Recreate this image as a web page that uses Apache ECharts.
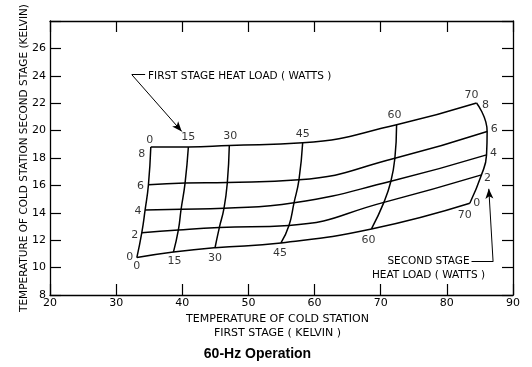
<!DOCTYPE html>
<html><head><meta charset="utf-8">
<script src="https://cdn.jsdelivr.net/npm/echarts@6/dist/echarts.min.js"></script>
<style>html,body{margin:0;padding:0;background:#fff}#c{width:532px;height:367px}</style>
</head><body><div id="c"></div>
<script>
// ---- data ----
const firstStageLoads = [0, 15, 30, 45, 60, 70];      // W, constant first-stage load curves
const secondStageLoads = [0, 2, 4, 6, 8];             // W, constant second-stage load curves
// rows: first-stage load; columns: second-stage load
const firstStageTemp = [
  [33.13, 33.88, 34.38, 34.88, 35.24],
  [38.66, 39.41, 39.82, 40.42, 40.92],
  [44.95, 45.60, 46.31, 46.81, 47.11],
  [54.92, 56.13, 56.89, 57.64, 58.20],
  [68.60, 70.48, 71.54, 72.14, 72.40],
  [83.47, 85.24, 86.00, 86.09, 84.49]
];
const secondStageTemp = [
  [10.73, 12.55, 14.21, 16.04, 18.80],
  [11.13, 12.75, 14.26, 16.17, 18.80],
  [11.45, 12.92, 14.34, 16.21, 18.91],
  [11.80, 13.08, 14.73, 16.41, 19.11],
  [12.82, 14.76, 16.30, 17.98, 20.43],
  [14.70, 16.77, 18.23, 19.94, 22.01]
];
const xTicks = [20, 30, 40, 50, 60, 70, 80, 90];
const yTicks = [8, 10, 12, 14, 16, 18, 20, 22, 24, 26];
// annotation leader points (data units)
const firstArrow = [[32.37, 24.08], [39.92, 19.94]];
const firstLeader = [[32.37, 24.08], [34.38, 24.08]];
const secondArrow = [[86.99, 10.43], [86.34, 15.75]];
const secondLeader = [[83.73, 10.43], [86.99, 10.43]];

// ---- label placement (pixel offsets, style only) ----
const topLabelOffset = [[-1,-7],[0,-10],[1,-9],[0,-9],[-2,-10],[-5,-8]];
const bottomLabelOffset = [[0,9],[1,9],[0,10],[-1,10],[-3,11],[-5,12]];
const leftLabelOffset = [[-7,0],[-7,2],[-7,1],[-8,1],[-9,7]];
const rightLabelOffset = [[7,0],[6,3],[7,-2],[7,-2],[9,2]];

const FONT = 'DejaVu Sans';
const chart = echarts.init(document.getElementById('c'), null, {renderer: 'canvas'});

const series = [];
const curveStyle = {color: '#000', width: 1.5};
firstStageLoads.forEach((q1, i) => {
  series.push({type: 'line', xAxisIndex: 0, yAxisIndex: 0, smooth: 0.5, symbol: 'none', silent: true,
    lineStyle: curveStyle, z: 3,
    data: secondStageLoads.map((q2, j) => [firstStageTemp[i][j], secondStageTemp[i][j]])});
});
secondStageLoads.forEach((q2, j) => {
  series.push({type: 'line', xAxisIndex: 0, yAxisIndex: 0, smooth: 0.5, symbol: 'none', silent: true,
    lineStyle: curveStyle, z: 3,
    data: firstStageLoads.map((q1, i) => [firstStageTemp[i][j], secondStageTemp[i][j]])});
});

const labelData = [];
const last = secondStageLoads.length - 1;
const lastI = firstStageLoads.length - 1;
firstStageLoads.forEach((q1, i) => {
  labelData.push({value: [firstStageTemp[i][last], secondStageTemp[i][last]], label: {formatter: String(q1), offset: topLabelOffset[i]}});
  labelData.push({value: [firstStageTemp[i][0], secondStageTemp[i][0]], label: {formatter: String(q1), offset: bottomLabelOffset[i]}});
});
secondStageLoads.forEach((q2, j) => {
  labelData.push({value: [firstStageTemp[0][j], secondStageTemp[0][j]], label: {formatter: String(q2), offset: leftLabelOffset[j]}});
  labelData.push({value: [firstStageTemp[lastI][j], secondStageTemp[lastI][j]], label: {formatter: String(q2), offset: rightLabelOffset[j]}});
});

series.push({type: 'scatter', symbol: 'circle', symbolSize: 1, silent: true, z: 4,
  itemStyle: {color: 'rgba(0,0,0,0)'},
  label: {show: true, position: 'inside', color: '#000', fontSize: 11, fontFamily: FONT},
  data: labelData,
  markLine: {silent: true, symbol: ['none', 'arrow'], symbolSize: [6, 10], animation: false,
    lineStyle: {color: '#000', width: 1, type: 'solid'}, label: {show: false},
    data: [
      [{coord: firstArrow[0]}, {coord: firstArrow[1]}],
      [{coord: secondArrow[0]}, {coord: secondArrow[1]}]
    ]}
});
series.push({type: 'scatter', data: [], silent: true,
  markLine: {silent: true, symbol: ['none', 'none'], animation: false,
    lineStyle: {color: '#000', width: 1, type: 'solid'}, label: {show: false},
    data: [
      [{coord: firstLeader[0]}, {coord: firstLeader[1]}],
      [{coord: secondLeader[0]}, {coord: secondLeader[1]}]
    ]}
});

const axisLine = {show: true, lineStyle: {color: '#000', width: 1.3}};
const tick = {show: true, inside: true, length: 11, lineStyle: {color: '#000', width: 1.2}};
const lab = {color: '#000', fontSize: 11, fontFamily: FONT};

chart.setOption({
  animation: false,
  backgroundColor: '#fff',
  grid: {left: 50, right: 19, top: 21, bottom: 72},
  xAxis: [
    {type: 'value', position: 'bottom', min: xTicks[0], max: xTicks[xTicks.length-1], interval: 10,
      axisLine, axisTick: tick, splitLine: {show: false},
      axisLabel: Object.assign({margin: 3}, lab)},
    {type: 'value', position: 'top', min: xTicks[0], max: xTicks[xTicks.length-1], interval: 10,
      axisLine, axisTick: tick, splitLine: {show: false}, axisLabel: {show: false}}
  ],
  yAxis: [
    {type: 'value', position: 'left', min: yTicks[0], max: 28, interval: 2,
      axisLine, axisTick: tick, splitLine: {show: false},
      axisLabel: Object.assign({margin: 4, formatter: v => yTicks.includes(v) ? String(v) : ''}, lab)},
    {type: 'value', position: 'right', min: yTicks[0], max: 28, interval: 2,
      axisLine, axisTick: tick, splitLine: {show: false}, axisLabel: {show: false}}
  ],
  series,
  graphic: [
    {type: 'text', x: 148, y: 76, silent: true,
      style: {text: 'FIRST STAGE HEAT LOAD ( WATTS )', fill: '#000', font: '10.5px "DejaVu Sans"', align: 'left', verticalAlign: 'middle'}},
    {type: 'text', x: 428.5, y: 268.5, silent: true,
      style: {text: 'SECOND STAGE\nHEAT LOAD ( WATTS )', fill: '#000', font: '10.5px "DejaVu Sans"', align: 'center', verticalAlign: 'middle', lineHeight: 13.5}},
    {type: 'text', x: 277.5, y: 326, silent: true,
      style: {text: 'TEMPERATURE OF COLD STATION\nFIRST STAGE ( KELVIN )', fill: '#000', font: '11px "DejaVu Sans"', align: 'center', verticalAlign: 'middle', lineHeight: 14}},
    {type: 'text', x: 24, y: 158, rotation: Math.PI / 2, silent: true,
      style: {text: 'TEMPERATURE OF COLD STATION SECOND STAGE (KELVIN)', fill: '#000', font: '10.5px "DejaVu Sans"', align: 'center', verticalAlign: 'middle'}},
    {type: 'text', x: 257.5, y: 354.5, silent: true,
      style: {text: '60-Hz Operation', fill: '#000', font: 'bold 14px "Liberation Sans"', align: 'center', verticalAlign: 'middle'}}
  ]
});
</script></body></html>
